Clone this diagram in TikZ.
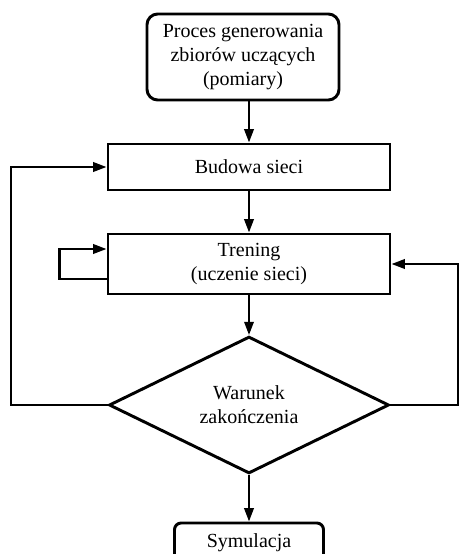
\documentclass[tikz,border=0pt]{standalone}
\usepackage{fontspec}
\setmainfont{Liberation Serif}
\usetikzlibrary{arrows.meta,positioning,shapes.geometric,calc}
\tikzset{
  >={Triangle[length=10pt,width=7pt]},
  box/.style={draw, line width=2.2pt, align=center, inner sep=3pt,
              font=\fontsize{15}{18}\selectfont},
  rbox/.style={box, rounded corners=8pt},
  cond/.style={box, diamond, inner sep=0pt},
  flow/.style={->, line width=1.8pt},
}

\begin{document}
\begin{tikzpicture}[x=0.75pt,y=-0.75pt]
        \clip (0,0) rectangle (459,554);
        \node[rbox,minimum width=144pt,minimum height=64.5pt] (proc) at (243,57)
          {Proces generowania\\zbiorów uczących\\(pomiary)};
        \node[box,minimum width=211.5pt,minimum height=34.5pt] (budowa) at (249,167) {Budowa sieci};
        \node[box,minimum width=211.5pt,minimum height=45pt] (trening) at (249,264)
          {Trening\\(uczenie sieci)};
        \node[cond,minimum width=210pt,minimum height=100.5pt] (warunek) at (249,405)
          {Warunek\\zakończenia};
        \node[rbox,rounded corners=5pt,minimum width=111.75pt,minimum height=30pt] (sym) at (249,543)
          {Symulacja};
        % main flow
        \draw[flow] (proc.south -| budowa.north) -- (budowa.north);
        \draw[flow] (budowa.south) -- (trening.north);
        \draw[flow] (trening.south) -- (warunek.north);
        \draw[flow] (warunek.south) -- (sym.north);
        % feedback loops
        \coordinate (lrail) at (11,405);
        \coordinate (rrail) at (458,405);
        \coordinate (loop) at ($(trening.west)+(-47,15)$);
        \draw[flow] (warunek.west) -- (lrail) |- (budowa.west);
        \draw[flow] (warunek.east) -- (rrail) |- (trening.east);
        \draw[flow] ($(trening.west)+(0,15)$) -- (loop) |- ($(trening.west)+(0,-15)$);
\end{tikzpicture}
\end{document}
